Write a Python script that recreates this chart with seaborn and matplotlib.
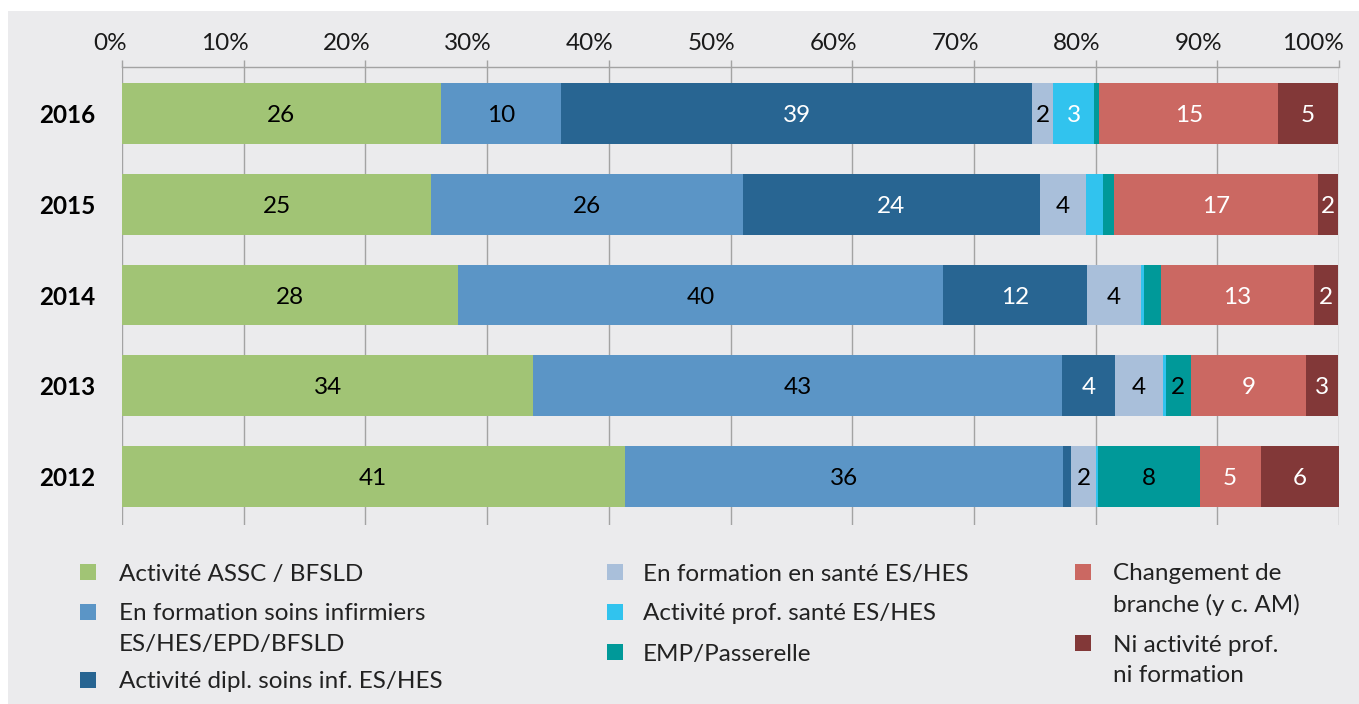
import matplotlib
matplotlib.use("Agg")
import matplotlib.pyplot as plt
from matplotlib.patches import Rectangle
import matplotlib.transforms as mtransforms
import seaborn as sns
import numpy as np
import pandas as pd

sns.set_theme(style="white")
plt.rcParams['font.family'] = ['Lato', 'DejaVu Sans']

# ---- data (percent) ----
years = ["2016", "2015", "2014", "2013", "2012"]
series = [
    "Activité ASSC / BFSLD",
    "En formation soins infirmiers\nES/HES/EPD/BFSLD",
    "Activité dipl. soins inf. ES/HES",
    "En formation en santé ES/HES",
    "Activité prof. santé ES/HES",
    "EMP/Passerelle",
    "Changement de\nbranche (y c. AM)",
    "Ni activité prof.\nni formation",
]
assc      = [26.2, 25.4, 27.6, 33.8, 41.3]
form_inf  = [9.9, 25.6, 39.9, 43.4, 36.0]
dipl_inf  = [38.7, 24.4, 11.8, 4.4, 0.66]
form_sant = [1.7, 3.8, 4.4, 3.9, 2.1]
act_sant  = [3.4, 1.4, 0.25, 0.25, 0.1]
emp       = [0.4, 0.9, 1.4, 2.1, 8.4]
changement = [14.7, 16.8, 12.6, 9.4, 5.0]
ni_act    = [4.9, 1.6, 2.0, 2.7, 6.4]
values = [assc, form_inf, dipl_inf, form_sant, act_sant, emp, changement, ni_act]

colors = ["#a1c475", "#5b95c6", "#286592", "#a9bfda", "#31c3ee", "#009999", "#cb6862", "#823838"]
text_colors = ["black", "black", "white", "black", "white", "black", "white", "white"]
xticks = list(range(0, 101, 10))
xticklabels = [f"{t}%" for t in xticks]

W, H = 1359, 704
BG = "#ebebed"
GRID = "#a3a3a3"
FS = 17.5

fig = plt.figure(figsize=(W / 100, H / 100), dpi=100)
fig.patch.set_facecolor("white")
fig.add_artist(Rectangle((8 / W, 0), 1 - 8 / W, 1 - 11 / H, transform=fig.transFigure,
                         facecolor=BG, edgecolor="none", zorder=-10))

ax = fig.add_axes([122 / W, 1 - 525 / H, (1339 - 122) / W, (525 - 67) / H])
ax.set_facecolor("none")

vals = np.array(values)
cum = np.cumsum(vals, axis=0)
df = pd.DataFrame({"year": years})
for k in range(len(series) - 1, -1, -1):
    df["v"] = cum[k]
    sns.barplot(data=df, x="v", y="year", orient="h", order=years, color=colors[k],
                saturation=1, width=0.672, linewidth=0, ax=ax, zorder=2)

for k in range(len(series)):
    for i, y in enumerate(years):
        v = vals[k, i]
        if v >= 1.5:
            ax.text(cum[k, i] - v / 2, i, f"{int(round(v))}", ha="center", va="center_baseline",
                    color=text_colors[k], fontsize=FS, zorder=3)

ax.set_xlim(0, 100)
ax.set_ylim(4.534, -0.512)
ax.set_xlabel("")
ax.set_ylabel("")
ax.xaxis.set_ticks_position("top")
ax.xaxis.set_label_position("top")
ax.set_xticks(xticks)
ax.set_xticklabels(xticklabels, fontsize=FS, color="#1a1a1a")
ax.tick_params(axis="x", which="both", top=True, bottom=False, length=5, width=1,
               color=GRID, pad=4)
shift = mtransforms.ScaledTranslation(5 / 100, 0, fig.dpi_scale_trans)
for lab in ax.get_xticklabels():
    lab.set_horizontalalignment("right")
    lab.set_transform(lab.get_transform() + shift)
ax.tick_params(axis="y", length=0, pad=19)
for lab in ax.get_yticklabels():
    lab.set_fontweight("bold")
    lab.set_fontsize(FS)
    lab.set_color("black")
ax.grid(axis="x", color=GRID, linewidth=1, zorder=0)
ax.grid(axis="y", visible=False)
ax.set_axisbelow(True)
for s in ["left", "right", "bottom"]:
    ax.spines[s].set_visible(False)
ax.spines["top"].set_color(GRID)
ax.spines["top"].set_linewidth(1)

# ---- legend (drawn manually: square aligned with first text line) ----
cols = [
    (80, 119, [(0, 572), (1, 612), (2, 680)]),
    (607, 643, [(3, 572), (4, 612), (5, 652)]),
    (1075, 1113, [(6, 572), (7, 643)]),
]
SQ = 16
for sx, tx, entries in cols:
    for k, yc in entries:
        fig.add_artist(Rectangle((sx / W, 1 - (yc + SQ / 2) / H), SQ / W, SQ / H,
                                 transform=fig.transFigure, facecolor=colors[k],
                                 edgecolor="none"))
        for j, line in enumerate(series[k].split("\n")):
            fig.text(tx / W, 1 - (yc + 31 * j) / H, line, ha="left", va="center_baseline",
                     fontsize=FS, color="#222222")

fig.savefig("out.png", dpi=100, facecolor="white")
